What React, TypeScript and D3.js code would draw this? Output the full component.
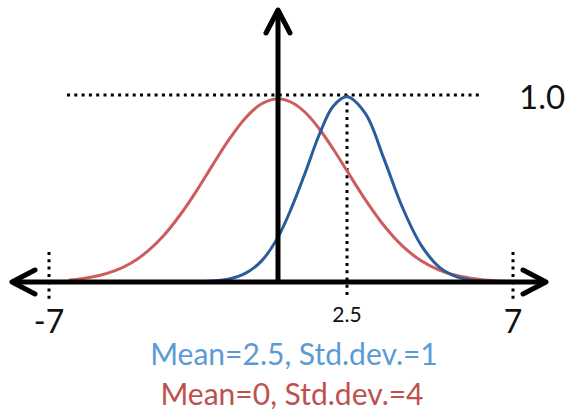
import React from "react";
import * as d3 from "d3";

const W = 569;
const H = 417;

// x ticks shown on the axis
const tickValues = [-7, 2.5, 7];
const tickLabels = ["-7", "2.5", "7"];
const yRefValue = 1.0;
const yRefLabel = "1.0";

// Blue curve (Mean=2.5, Std.dev.=1)
const blueX = [-2.6, -2, -1.5, -1, -0.5, 0, 0.5, 1, 1.5, 2, 2.5, 3, 3.5, 4, 4.5, 5, 5.5, 6, 6.7];
const blueY = [0.001, 0.005, 0.016, 0.046, 0.113, 0.24, 0.40, 0.59, 0.79, 0.94, 0.99, 0.90, 0.66, 0.40, 0.20, 0.08, 0.026, 0.007, 0.001];

// Red curve (Mean=0, Std.dev.=4)
const redX = [-6.4, -6, -5.5, -5, -4.5, -4, -3.5, -3, -2.5, -2, -1.5, -1, -0.5, 0, 0.5, 1, 1.5, 2, 2.5, 3, 3.5, 4, 4.5, 5, 5.5, 6, 6.5, 7, 7.3];
const redY = [0.01, 0.017, 0.033, 0.059, 0.10, 0.162, 0.247, 0.357, 0.485, 0.625, 0.761, 0.876, 0.953, 0.98, 0.96, 0.905, 0.818, 0.711, 0.594, 0.439, 0.302, 0.193, 0.115, 0.064, 0.033, 0.016, 0.007, 0.003, 0.001];

const legendLabels = ["Mean=2.5, Std.dev.=1", "Mean=0, Std.dev.=4"];

export default function App() {
  const x = d3.scaleLinear().domain([-7, 0, 2.5, 7]).range([49, 278, 347, 513]);
  const y = d3.scaleLinear().domain([0, 1]).range([282, 95]);

  const line = d3
    .line<[number, number]>()
    .x((d) => x(d[0]))
    .y((d) => y(d[1]))
    .curve(d3.curveCatmullRom.alpha(0.5));

  const redPath = line(redX.map((v, i) => [v, redY[i]]) as [number, number][]) || "";
  const bluePath = line(blueX.map((v, i) => [v, blueY[i]]) as [number, number][]) || "";

  const axisY = y(0);
  const axisX = x(0);
  const leftEnd = 12;
  const rightEnd = 546;
  const topEnd = 10;
  const ah = 23; // arrow head length
  const aw = 12; // arrow head half width

  const font = "Lato, 'Open Sans', sans-serif";

  return (
    <svg
      width={W}
      height={H}
      style={{ position: "absolute", left: 0, top: 0, background: "#fff" }}
    >
      {/* dotted reference line at 1.0 */}
      <line
        x1={67}
        x2={479}
        y1={y(yRefValue)}
        y2={y(yRefValue)}
        stroke="#000"
        strokeWidth={3}
        strokeDasharray="3 4.3"
      />
      {/* dotted tick lines */}
      <line x1={x(tickValues[1])} x2={x(tickValues[1])} y1={y(yRefValue)} y2={298} stroke="#000" strokeWidth={3} strokeDasharray="3 4.3" />
      <line x1={x(tickValues[0])} x2={x(tickValues[0])} y1={252} y2={302} stroke="#000" strokeWidth={3} strokeDasharray="3 4.3" />
      <line x1={x(tickValues[2])} x2={x(tickValues[2])} y1={252} y2={302} stroke="#000" strokeWidth={3} strokeDasharray="3 4.3" />

      {/* curves */}
      <path d={redPath} fill="none" stroke="#CD5C5C" strokeWidth={3} />
      <path d={bluePath} fill="none" stroke="#2B5C9B" strokeWidth={3} />

      {/* axes */}
      <line x1={leftEnd + 2} x2={rightEnd - 2} y1={axisY} y2={axisY} stroke="#000" strokeWidth={5} />
      <line x1={axisX} x2={axisX} y1={topEnd + 2} y2={axisY} stroke="#000" strokeWidth={5} />
      <polyline
        points={`${leftEnd + ah},${axisY - aw} ${leftEnd},${axisY} ${leftEnd + ah},${axisY + aw}`}
        fill="none"
        stroke="#000"
        strokeWidth={5}
        strokeLinecap="round"
        strokeLinejoin="round"
      />
      <polyline
        points={`${rightEnd - ah},${axisY - aw} ${rightEnd},${axisY} ${rightEnd - ah},${axisY + aw}`}
        fill="none"
        stroke="#000"
        strokeWidth={5}
        strokeLinecap="round"
        strokeLinejoin="round"
      />
      <polyline
        points={`${axisX - aw},${topEnd + ah} ${axisX},${topEnd} ${axisX + aw},${topEnd + ah}`}
        fill="none"
        stroke="#000"
        strokeWidth={5}
        strokeLinecap="round"
        strokeLinejoin="round"
      />

      {/* labels */}
      <text x={x(tickValues[0])} y={333} textAnchor="middle" fontFamily={font} fontSize={32} fill="#111">
        {tickLabels[0]}
      </text>
      <text x={x(tickValues[1])} y={322} textAnchor="middle" fontFamily={font} fontSize={21} fill="#111">
        {tickLabels[1]}
      </text>
      <text x={x(tickValues[2])} y={333} textAnchor="middle" fontFamily={font} fontSize={32} fill="#111">
        {tickLabels[2]}
      </text>
      <text x={519} y={y(yRefValue) + 14} textAnchor="start" fontFamily={font} fontSize={33} fill="#111">
        {yRefLabel}
      </text>

      {/* legend */}
      <text x={294} y={365} textAnchor="middle" fontFamily={font} fontSize={30} fill="#5B9BD5">
        {legendLabels[0]}
      </text>
      <text x={292} y={405} textAnchor="middle" fontFamily={font} fontSize={30} fill="#C0504D">
        {legendLabels[1]}
      </text>
    </svg>
  );
}
